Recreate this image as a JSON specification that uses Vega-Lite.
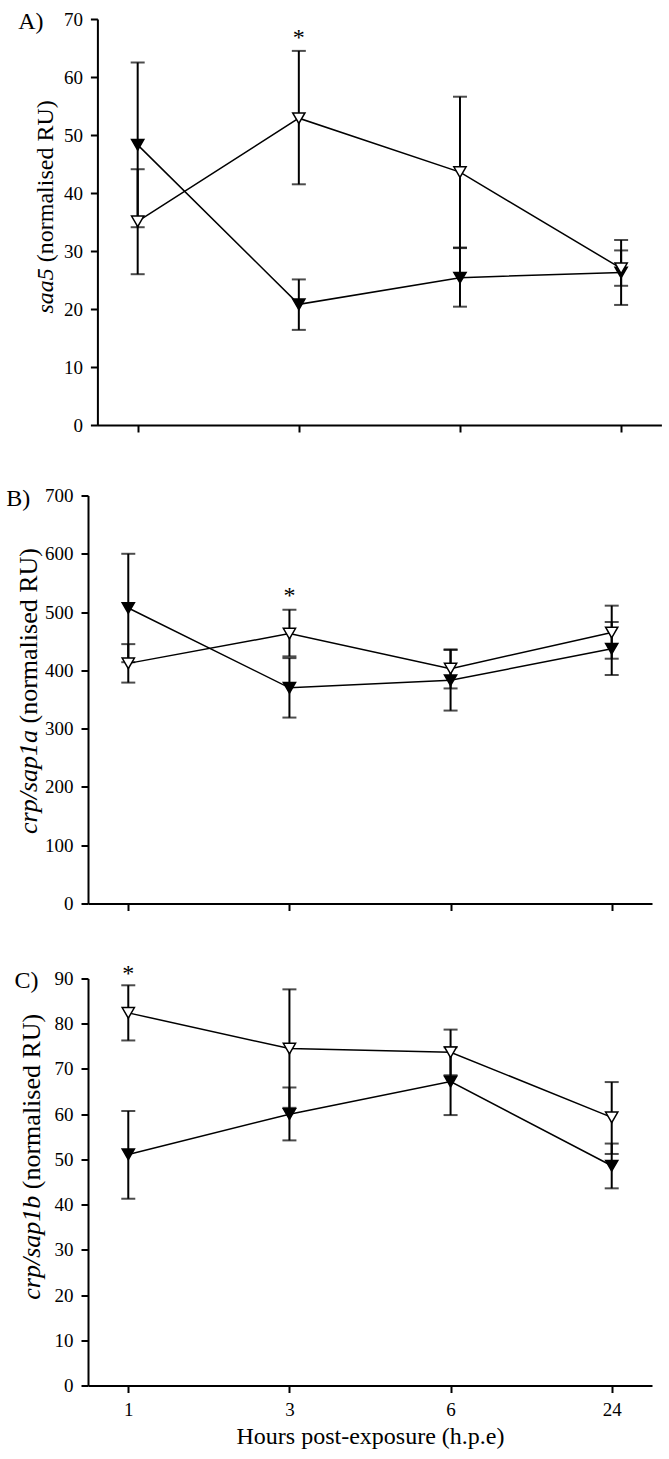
{
  "$schema": "https://vega.github.io/schema/vega-lite/v6.json",
  "padding": {"left": 5, "top": 9, "right": 0, "bottom": 0},
  "background": "white",
  "config": {
    "font": "Liberation Serif",
    "view": {"stroke": null},
    "axis": {
      "grid": false, "domainColor": "black", "domainWidth": 2,
      "tickColor": "black", "tickWidth": 2, "tickSize": 7,
      "labelColor": "black", "labelFont": "Liberation Serif", "labelFontSize": 19, "labelPadding": 8,
      "titleFont": "Liberation Serif", "titleFontSize": 24, "titleFontWeight": "normal", "titleColor": "black"
    }
  },
  "datasets": {
    "A": [
      {"hpe": "1", "series": "filled", "mean": 48.3, "lo": 34.1, "hi": 62.5},
      {"hpe": "3", "series": "filled", "mean": 20.8, "lo": 16.4, "hi": 25.1},
      {"hpe": "6", "series": "filled", "mean": 25.4, "lo": 20.4, "hi": 30.5},
      {"hpe": "24", "series": "filled", "mean": 26.3, "lo": 20.7, "hi": 31.9},
      {"hpe": "1", "series": "open", "mean": 35.1, "lo": 26.0, "hi": 44.1},
      {"hpe": "3", "series": "open", "mean": 52.9, "lo": 41.5, "hi": 64.5},
      {"hpe": "6", "series": "open", "mean": 43.6, "lo": 30.6, "hi": 56.6},
      {"hpe": "24", "series": "open", "mean": 27.0, "lo": 24.0, "hi": 30.1}
    ],
    "B": [
      {"hpe": "1", "series": "filled", "mean": 507, "lo": 414, "hi": 600},
      {"hpe": "3", "series": "filled", "mean": 370, "lo": 319, "hi": 421},
      {"hpe": "6", "series": "filled", "mean": 383, "lo": 331, "hi": 435},
      {"hpe": "24", "series": "filled", "mean": 437, "lo": 392, "hi": 483},
      {"hpe": "1", "series": "open", "mean": 412, "lo": 379, "hi": 445},
      {"hpe": "3", "series": "open", "mean": 463, "lo": 424, "hi": 504},
      {"hpe": "6", "series": "open", "mean": 403, "lo": 369, "hi": 436},
      {"hpe": "24", "series": "open", "mean": 465, "lo": 420, "hi": 511}
    ],
    "C": [
      {"hpe": "1", "series": "filled", "mean": 51.1, "lo": 41.3, "hi": 60.7},
      {"hpe": "3", "series": "filled", "mean": 60.0, "lo": 54.2, "hi": 65.9},
      {"hpe": "6", "series": "filled", "mean": 67.2, "lo": 59.8, "hi": 74.8},
      {"hpe": "24", "series": "filled", "mean": 48.6, "lo": 43.6, "hi": 53.5},
      {"hpe": "1", "series": "open", "mean": 82.4, "lo": 76.3, "hi": 88.5},
      {"hpe": "3", "series": "open", "mean": 74.5, "lo": 61.4, "hi": 87.6},
      {"hpe": "6", "series": "open", "mean": 73.7, "lo": 68.6, "hi": 78.7},
      {"hpe": "24", "series": "open", "mean": 59.3, "lo": 51.2, "hi": 67.1}
    ],
    "stars": [
      {"panel": "A", "hpe": "3", "y": 67.0, "label": "*"},
      {"panel": "B", "hpe": "3", "y": 530, "label": "*"},
      {"panel": "C", "hpe": "1", "y": 91.4, "label": "*"}
    ]
  },
  "concat": [
    {
      "width": 573.4, "height": 406,
      "data": {"name": "A"},
      "encoding": {"x": {"field": "hpe", "type": "ordinal", "sort": ["1", "3", "6", "24"], "scale": {"type": "point", "padding": 0.25, "range": [9.4, 573.4]}, "axis": {"labels": false, "ticks": true, "title": null}}},
      "layer": [
        {"mark": {"type": "rule", "color": "black", "strokeWidth": 2},
         "encoding": {"y": {"field": "lo", "type": "quantitative", "scale": {"domain": [0, 70], "nice": false, "zero": true},
           "axis": {"offset": -9.4, "values": [0, 10, 20, 30, 40, 50, 60, 70], "title": "(normalised RU)", "titleAngle": 270, "titleAlign": "left", "titleBaseline": "alphabetic", "titleX": -45, "titleY": 242.7}},
           "y2": {"field": "hi"}}},
        {"mark": {"type": "tick", "color": "black", "thickness": 2, "size": 14},
         "encoding": {"y": {"field": "lo", "type": "quantitative", "axis": {"orient": "left", "offset": -9.4, "labels": false, "ticks": false, "domain": false, "title": "saa5", "titleFontStyle": "italic", "titleAngle": 270, "titleAlign": "right", "titleBaseline": "alphabetic", "titleX": -45, "titleY": 248.7}}}},
        {"mark": {"type": "tick", "color": "black", "thickness": 2, "size": 14},
         "encoding": {"y": {"field": "hi", "type": "quantitative", "axis": {"orient": "left", "offset": -9.4, "labels": false, "ticks": false, "domain": false, "title": "A)", "titleAngle": 0, "titleAlign": "left", "titleBaseline": "alphabetic", "titleX": -79.7, "titleY": 9}}}},
        {"mark": {"type": "line", "color": "black", "strokeWidth": 1.5},
         "encoding": {"y": {"field": "mean", "type": "quantitative", "axis": null}, "detail": {"field": "series"}}},
        {"mark": {"type": "point", "shape": "triangle-down", "size": 150, "filled": true, "stroke": "black", "strokeWidth": 1.5, "opacity": 1},
         "encoding": {"y": {"field": "mean", "type": "quantitative", "axis": null},
           "fill": {"field": "series", "type": "nominal", "scale": {"domain": ["filled", "open"], "range": ["black", "white"]}, "legend": null}}},
        {"data": {"name": "stars"}, "transform": [{"filter": "datum.panel === 'A'"}],
         "mark": {"type": "text", "fontSize": 24, "font": "Liberation Serif", "baseline": "alphabetic", "dy": 8.5, "color": "black"},
         "encoding": {"y": {"field": "y", "type": "quantitative", "axis": null}, "text": {"field": "label"}}}
      ],
      "resolve": {"axis": {"y": "independent"}}
    },
    {
      "concat": [
        {
          "width": 564, "height": 408,
          "data": {"name": "B"},
          "encoding": {"x": {"field": "hpe", "type": "ordinal", "sort": ["1", "3", "6", "24"], "scale": {"type": "point", "padding": 0.25}, "axis": {"labels": false, "ticks": true, "title": null}}},
          "layer": [
            {"mark": {"type": "rule", "color": "black", "strokeWidth": 2},
             "encoding": {"y": {"field": "lo", "type": "quantitative", "scale": {"domain": [0, 700], "nice": false, "zero": true},
               "axis": {"values": [0, 100, 200, 300, 400, 500, 600, 700], "title": "(normalised RU)", "titleFontSize": 26, "titleAngle": 270, "titleAlign": "left", "titleBaseline": "alphabetic", "titleX": -51.5, "titleY": 227.5}},
               "y2": {"field": "hi"}}},
            {"mark": {"type": "tick", "color": "black", "thickness": 2, "size": 14},
             "encoding": {"y": {"field": "lo", "type": "quantitative", "axis": {"orient": "left", "labels": false, "ticks": false, "domain": false, "title": "crp/sap1a", "titleFontSize": 26, "titleFontStyle": "italic", "titleAngle": 270, "titleAlign": "right", "titleBaseline": "alphabetic", "titleX": -51.5, "titleY": 234}}}},
            {"mark": {"type": "tick", "color": "black", "thickness": 2, "size": 14},
             "encoding": {"y": {"field": "hi", "type": "quantitative", "axis": {"orient": "left", "labels": false, "ticks": false, "domain": false, "title": "B)", "titleAngle": 0, "titleAlign": "left", "titleBaseline": "alphabetic", "titleX": -82.3, "titleY": 10}}}},
            {"mark": {"type": "line", "color": "black", "strokeWidth": 1.5},
             "encoding": {"y": {"field": "mean", "type": "quantitative", "axis": null}, "detail": {"field": "series"}}},
            {"mark": {"type": "point", "shape": "triangle-down", "size": 150, "filled": true, "stroke": "black", "strokeWidth": 1.5, "opacity": 1},
             "encoding": {"y": {"field": "mean", "type": "quantitative", "axis": null},
               "fill": {"field": "series", "type": "nominal", "scale": {"domain": ["filled", "open"], "range": ["black", "white"]}, "legend": null}}},
            {"data": {"name": "stars"}, "transform": [{"filter": "datum.panel === 'B'"}],
             "mark": {"type": "text", "fontSize": 24, "font": "Liberation Serif", "baseline": "alphabetic", "dy": 8.5, "color": "black"},
             "encoding": {"y": {"field": "y", "type": "quantitative", "axis": null}, "text": {"field": "label"}}}
          ],
          "resolve": {"axis": {"y": "independent"}}
        },
        {
          "width": 564, "height": 407,
          "data": {"name": "C"},
          "encoding": {"x": {"field": "hpe", "type": "ordinal", "sort": ["1", "3", "6", "24"], "scale": {"type": "point", "padding": 0.25}, "axis": {"labels": true, "labelAngle": 0, "ticks": true, "title": "Hours post-exposure (h.p.e)", "titlePadding": 5}}},
          "layer": [
            {"mark": {"type": "rule", "color": "black", "strokeWidth": 2},
             "encoding": {"y": {"field": "lo", "type": "quantitative", "scale": {"domain": [0, 90], "nice": false, "zero": true},
               "axis": {"values": [0, 10, 20, 30, 40, 50, 60, 70, 80, 90], "title": "(normalised RU)", "titleFontSize": 26, "titleAngle": 270, "titleAlign": "left", "titleBaseline": "alphabetic", "titleX": -48.5, "titleY": 210.2}},
               "y2": {"field": "hi"}}},
            {"mark": {"type": "tick", "color": "black", "thickness": 2, "size": 14},
             "encoding": {"y": {"field": "lo", "type": "quantitative", "axis": {"orient": "left", "labels": false, "ticks": false, "domain": false, "title": "crp/sap1b", "titleFontSize": 26, "titleFontStyle": "italic", "titleAngle": 270, "titleAlign": "right", "titleBaseline": "alphabetic", "titleX": -48.5, "titleY": 216.7}}}},
            {"mark": {"type": "tick", "color": "black", "thickness": 2, "size": 14},
             "encoding": {"y": {"field": "hi", "type": "quantitative", "axis": {"orient": "left", "labels": false, "ticks": false, "domain": false, "title": "C)", "titleAngle": 0, "titleAlign": "left", "titleBaseline": "alphabetic", "titleX": -74, "titleY": 8.7}}}},
            {"mark": {"type": "line", "color": "black", "strokeWidth": 1.5},
             "encoding": {"y": {"field": "mean", "type": "quantitative", "axis": null}, "detail": {"field": "series"}}},
            {"mark": {"type": "point", "shape": "triangle-down", "size": 150, "filled": true, "stroke": "black", "strokeWidth": 1.5, "opacity": 1},
             "encoding": {"y": {"field": "mean", "type": "quantitative", "axis": null},
               "fill": {"field": "series", "type": "nominal", "scale": {"domain": ["filled", "open"], "range": ["black", "white"]}, "legend": null}}},
            {"data": {"name": "stars"}, "transform": [{"filter": "datum.panel === 'C'"}],
             "mark": {"type": "text", "fontSize": 24, "font": "Liberation Serif", "baseline": "alphabetic", "dy": 8.5, "color": "black"},
             "encoding": {"y": {"field": "y", "type": "quantitative", "axis": null}, "text": {"field": "label"}}}
          ],
          "resolve": {"axis": {"y": "independent"}}
        }
      ],
      "columns": 1, "spacing": 48
    }
  ],
  "columns": 1, "spacing": 51.5
}
